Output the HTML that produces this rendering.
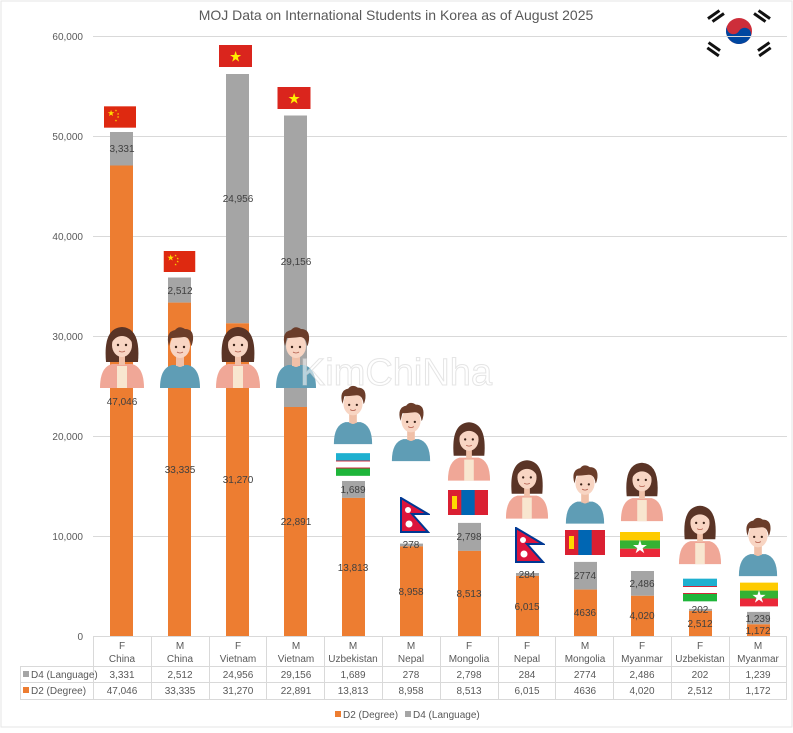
<!DOCTYPE html>
<html><head><meta charset="utf-8"><style>
html,body{margin:0;padding:0;background:#fff;}
svg text{font-family:"Liberation Sans",sans-serif;}
</style></head><body>
<svg width="793" height="728" viewBox="0 0 793 728" xmlns="http://www.w3.org/2000/svg">
<defs>
<symbol id="fem" viewBox="0 0 46 66">
<path d="M7 40 Q4 6 23 5 Q42 6 39 40 Z" fill="#5a3426"/>
<path d="M1 66 Q1 45 13 42 L33 42 Q45 45 45 66Z" fill="#f0a797"/>
<rect x="18" y="44" width="10" height="22" fill="#f8e6cf"/>
<rect x="20" y="33" width="6" height="10" fill="#f0c0a8"/>
<ellipse cx="23" cy="23" rx="10" ry="12" fill="#f8d5c3"/>
<path d="M12 22 Q14 9 23 10 Q32 9 34 22 Q30 14 23 14 Q16 14 12 22Z" fill="#5a3426"/>
<circle cx="19" cy="23" r="1.2" fill="#3a2218"/><circle cx="27" cy="23" r="1.2" fill="#3a2218"/>
<path d="M20 29 Q23 31 26 29" stroke="#b05a4a" fill="none" stroke-width="0.8"/>
</symbol>
<symbol id="mal" viewBox="0 0 46 66">
<path d="M3 66 Q3 46 15 43 L31 43 Q43 46 43 66Z" fill="#5f9db5"/>
<rect x="19" y="33" width="8" height="11" fill="#f0c0a8"/>
<path d="M19 43 Q23 47 27 43Z" fill="#f0c0a8"/>
<ellipse cx="23" cy="24" rx="10" ry="12" fill="#f8d5c3"/>
<path d="M12 24 Q8 10 18 8 Q22 3 28 7 Q37 7 36 18 Q35 24 34 24 Q33 15 27 15 Q18 16 14 16 Q13 20 12 24Z" fill="#6b3d2a"/>
<circle cx="19" cy="25" r="1.2" fill="#3a2218"/><circle cx="27" cy="25" r="1.2" fill="#3a2218"/>
<path d="M20 30 Q23 32 26 30" stroke="#b05a4a" fill="none" stroke-width="0.8"/>
</symbol>
<symbol id="cn" viewBox="0 0 30 20"><rect width="30" height="20" fill="#de2910"/><text x="3" y="9" font-size="8" fill="#ffde00">★</text><text x="10" y="5" font-size="3" fill="#ffde00">★</text><text x="12" y="8" font-size="3" fill="#ffde00">★</text><text x="12" y="11" font-size="3" fill="#ffde00">★</text><text x="10" y="14" font-size="3" fill="#ffde00">★</text></symbol>
<symbol id="vn" viewBox="0 0 30 20"><rect width="30" height="20" fill="#da251d"/><text x="15" y="15" font-size="13" fill="#ffef00" text-anchor="middle">★</text></symbol>
<symbol id="uz" viewBox="0 0 30 20"><rect width="30" height="20" fill="#fff"/><rect width="30" height="6.5" fill="#1eb0d0"/><rect y="13.5" width="30" height="6.5" fill="#1eb53a"/><rect y="6.5" width="30" height="0.8" fill="#ce1126"/><rect y="12.7" width="30" height="0.8" fill="#ce1126"/></symbol>
<symbol id="np" viewBox="0 0 30 36"><path d="M1 1 L28 17 L12 17 L28 35 L1 35Z" fill="#dc143c" stroke="#003893" stroke-width="2"/><circle cx="8" cy="13" r="3" fill="#fff"/><circle cx="9" cy="27" r="3.5" fill="#fff"/></symbol>
<symbol id="mn" viewBox="0 0 40 25"><rect width="40" height="25" fill="#da2032"/><rect x="13.3" width="13.4" height="25" fill="#0066b3"/><rect x="4" y="6" width="5" height="13" fill="#ffd900"/></symbol>
<symbol id="mm" viewBox="0 0 40 25"><rect width="40" height="8.4" fill="#fecb00"/><rect y="8.4" width="40" height="8.3" fill="#34b233"/><rect y="16.7" width="40" height="8.3" fill="#ea2839"/><text x="20" y="21" font-size="18" fill="#fff" text-anchor="middle">★</text></symbol>
</defs>
<rect x="1" y="1" width="791" height="726" fill="#fff" stroke="#e6e6e6"/>
<text x="396" y="20" font-size="14" fill="#595959" text-anchor="middle">MOJ Data on International Students in Korea as of August 2025</text>
<!-- Korea flag -->
<g transform="translate(739,31)">
<circle r="13" fill="#cd2e3a"/><path d="M-13 0 A13 13 0 0 0 13 0 A6.5 6.5 0 0 0 0 0 A6.5 6.5 0 0 1 -13 0Z" fill="#0047a0" transform="rotate(30)"/>
<g fill="#111"><rect x="-32" y="-18" width="14" height="3" transform="rotate(-35 -25 -16)"/><rect x="-30" y="-13" width="14" height="3" transform="rotate(-35 -25 -16)"/><rect x="18" y="-18" width="14" height="3" transform="rotate(35 25 -16)"/><rect x="16" y="-13" width="14" height="3" transform="rotate(35 25 -16)"/><rect x="-32" y="14" width="14" height="3" transform="rotate(35 -25 16)"/><rect x="-30" y="19" width="14" height="3" transform="rotate(35 -25 16)"/><rect x="18" y="14" width="14" height="3" transform="rotate(-35 25 16)"/><rect x="16" y="19" width="14" height="3" transform="rotate(-35 25 16)"/></g>
</g>
<!-- grid -->
<g stroke="#d9d9d9" stroke-width="1">
<line x1="93" y1="36.5" x2="787" y2="36.5"/><line x1="93" y1="136.5" x2="787" y2="136.5"/><line x1="93" y1="236.5" x2="787" y2="236.5"/><line x1="93" y1="336.5" x2="787" y2="336.5"/><line x1="93" y1="436.5" x2="787" y2="436.5"/><line x1="93" y1="536.5" x2="787" y2="536.5"/><line x1="93" y1="636.5" x2="787" y2="636.5"/>
</g>
<g font-size="10" fill="#595959" text-anchor="end">
<text x="83" y="40">60,000</text><text x="83" y="140">50,000</text><text x="83" y="240">40,000</text><text x="83" y="340">30,000</text><text x="83" y="440">20,000</text><text x="83" y="540">10,000</text><text x="83" y="640">0</text>
</g>
<!-- bars -->
<g>
<rect x="110" y="132" width="23" height="33.5" fill="#a5a5a5"/><rect x="110" y="165.5" width="23" height="470.5" fill="#ed7d31"/>
<rect x="168" y="277.5" width="23" height="25.1" fill="#a5a5a5"/><rect x="168" y="302.6" width="23" height="333.4" fill="#ed7d31"/>
<rect x="226" y="74" width="23" height="249.3" fill="#a5a5a5"/><rect x="226" y="323.3" width="23" height="312.7" fill="#ed7d31"/>
<rect x="284" y="115.5" width="23" height="291.5" fill="#a5a5a5"/><rect x="284" y="407" width="23" height="229" fill="#ed7d31"/>
<rect x="342" y="481" width="23" height="16.9" fill="#a5a5a5"/><rect x="342" y="497.9" width="23" height="138.1" fill="#ed7d31"/>
<rect x="400" y="543.6" width="23" height="2.8" fill="#a5a5a5"/><rect x="400" y="546.4" width="23" height="89.6" fill="#ed7d31"/>
<rect x="458" y="522.9" width="23" height="28" fill="#a5a5a5"/><rect x="458" y="550.9" width="23" height="85.1" fill="#ed7d31"/>
<rect x="516" y="573" width="23" height="2.9" fill="#a5a5a5"/><rect x="516" y="575.9" width="23" height="60.1" fill="#ed7d31"/>
<rect x="574" y="561.9" width="23" height="27.7" fill="#a5a5a5"/><rect x="574" y="589.6" width="23" height="46.4" fill="#ed7d31"/>
<rect x="631" y="571" width="23" height="24.8" fill="#a5a5a5"/><rect x="631" y="595.8" width="23" height="40.2" fill="#ed7d31"/>
<rect x="689" y="608.9" width="23" height="2" fill="#a5a5a5"/><rect x="689" y="610.9" width="23" height="25.1" fill="#ed7d31"/>
<rect x="747" y="611.9" width="23" height="12.4" fill="#a5a5a5"/><rect x="747" y="624.3" width="23" height="11.7" fill="#ed7d31"/>
</g>
<!-- flags -->
<use href="#cn" x="104" y="106" width="32" height="22"/>
<use href="#cn" x="163" y="251" width="33" height="21"/>
<use href="#vn" x="219" y="45" width="33" height="22"/>
<use href="#vn" x="277" y="87" width="34" height="22"/>
<use href="#uz" x="336" y="453" width="34" height="23"/>
<use href="#np" x="400" y="497" width="30" height="36"/>
<use href="#mn" x="448" y="490" width="40" height="25"/>
<use href="#np" x="515" y="527" width="30" height="36"/>
<use href="#mn" x="565" y="530" width="40" height="25"/>
<use href="#mm" x="620" y="532" width="40" height="25"/>
<use href="#uz" x="683" y="578" width="34" height="24"/>
<use href="#mm" x="740" y="582" width="38" height="25"/>
<!-- people -->
<use href="#fem" x="99" y="322" width="46" height="66"/>
<use href="#mal" x="157" y="322" width="46" height="66"/>
<use href="#fem" x="215" y="322" width="46" height="66"/>
<use href="#mal" x="273" y="322" width="46" height="66"/>
<use href="#mal" x="331" y="380" width="44" height="65"/>
<use href="#mal" x="389" y="397" width="44" height="65"/>
<use href="#fem" x="447" y="416" width="44" height="66"/>
<use href="#fem" x="505" y="452" width="44" height="70"/>
<use href="#mal" x="563" y="460" width="44" height="64"/>
<use href="#fem" x="620" y="457" width="44" height="65"/>
<use href="#fem" x="678" y="500" width="44" height="65"/>
<use href="#mal" x="736" y="512" width="44" height="65"/>
<text x="396" y="385" font-size="38" fill="#ffffff" fill-opacity="0.55" stroke="#cccccc" stroke-opacity="0.5" text-anchor="middle">KimChiNha</text>
<!-- data labels -->
<g font-size="10" fill="#404040" text-anchor="middle">
<text x="122" y="152">3,331</text><text x="122" y="405">47,046</text>
<text x="180" y="294">2,512</text><text x="180" y="473">33,335</text>
<text x="238" y="202">24,956</text><text x="238" y="483">31,270</text>
<text x="296" y="265">29,156</text><text x="296" y="525">22,891</text>
<text x="353" y="493">1,689</text><text x="353" y="571">13,813</text>
<text x="411" y="548">278</text><text x="411" y="595">8,958</text>
<text x="469" y="540">2,798</text><text x="469" y="597">8,513</text>
<text x="527" y="578">284</text><text x="527" y="610">6,015</text>
<text x="585" y="579">2774</text><text x="585" y="616">4636</text>
<text x="642" y="587">2,486</text><text x="642" y="619">4,020</text>
<text x="700" y="613">202</text><text x="700" y="627">2,512</text>
<text x="758" y="622">1,239</text><text x="758" y="634">1,172</text>
</g>
<!-- table -->
<g stroke="#d9d9d9" stroke-width="1" fill="none">
<line x1="20" y1="666.5" x2="787" y2="666.5"/><line x1="20" y1="682.5" x2="787" y2="682.5"/><line x1="20" y1="699.5" x2="787" y2="699.5"/>
<line x1="20.5" y1="666" x2="20.5" y2="699"/>
<line x1="93.5" y1="636" x2="93.5" y2="699"/><line x1="151.5" y1="636" x2="151.5" y2="699"/><line x1="209.5" y1="636" x2="209.5" y2="699"/><line x1="266.5" y1="636" x2="266.5" y2="699"/><line x1="324.5" y1="636" x2="324.5" y2="699"/><line x1="382.5" y1="636" x2="382.5" y2="699"/><line x1="440.5" y1="636" x2="440.5" y2="699"/><line x1="498.5" y1="636" x2="498.5" y2="699"/><line x1="555.5" y1="636" x2="555.5" y2="699"/><line x1="613.5" y1="636" x2="613.5" y2="699"/><line x1="671.5" y1="636" x2="671.5" y2="699"/><line x1="729.5" y1="636" x2="729.5" y2="699"/><line x1="786.5" y1="636" x2="786.5" y2="699"/>
</g>
<g font-size="10" fill="#595959" text-anchor="middle">
<text x="122" y="649">F</text><text x="122" y="662">China</text>
<text x="180" y="649">M</text><text x="180" y="662">China</text>
<text x="238" y="649">F</text><text x="238" y="662">Vietnam</text>
<text x="296" y="649">M</text><text x="296" y="662">Vietnam</text>
<text x="353" y="649">M</text><text x="353" y="662">Uzbekistan</text>
<text x="411" y="649">M</text><text x="411" y="662">Nepal</text>
<text x="469" y="649">F</text><text x="469" y="662">Mongolia</text>
<text x="527" y="649">F</text><text x="527" y="662">Nepal</text>
<text x="585" y="649">M</text><text x="585" y="662">Mongolia</text>
<text x="642" y="649">F</text><text x="642" y="662">Myanmar</text>
<text x="700" y="649">F</text><text x="700" y="662">Uzbekistan</text>
<text x="758" y="649">M</text><text x="758" y="662">Myanmar</text>
<text x="122" y="678">3,331</text><text x="180" y="678">2,512</text><text x="238" y="678">24,956</text><text x="296" y="678">29,156</text><text x="353" y="678">1,689</text><text x="411" y="678">278</text><text x="469" y="678">2,798</text><text x="527" y="678">284</text><text x="585" y="678">2774</text><text x="642" y="678">2,486</text><text x="700" y="678">202</text><text x="758" y="678">1,239</text>
<text x="122" y="694">47,046</text><text x="180" y="694">33,335</text><text x="238" y="694">31,270</text><text x="296" y="694">22,891</text><text x="353" y="694">13,813</text><text x="411" y="694">8,958</text><text x="469" y="694">8,513</text><text x="527" y="694">6,015</text><text x="585" y="694">4636</text><text x="642" y="694">4,020</text><text x="700" y="694">2,512</text><text x="758" y="694">1,172</text>
</g>
<rect x="23" y="671" width="6" height="6" fill="#a5a5a5"/><text x="31" y="678" font-size="10" fill="#595959">D4 (Language)</text>
<rect x="23" y="687" width="6" height="6" fill="#ed7d31"/><text x="31" y="694" font-size="10" fill="#595959">D2 (Degree)</text>
<!-- legend -->
<rect x="335" y="711" width="6" height="6" fill="#ed7d31"/><text x="343" y="718" font-size="10" fill="#595959">D2 (Degree)</text>
<rect x="405" y="711" width="6" height="6" fill="#a5a5a5"/><text x="413" y="718" font-size="10" fill="#595959">D4 (Language)</text>
</svg>
</body></html>
